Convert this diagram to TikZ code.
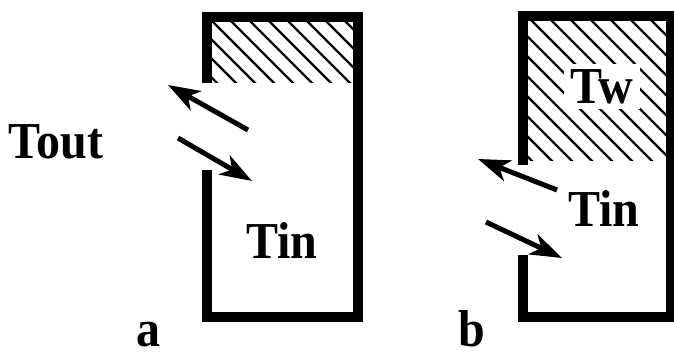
\documentclass[tikz,border=0pt]{standalone}
\usepackage{fontspec}
\setmainfont{Liberation Serif}
\usetikzlibrary{arrows.meta}
\newcommand\stretchtxt[1]{\scalebox{1}[1.08]{#1}}
\begin{document}
\begin{tikzpicture}[x=1pt,y=-1pt,
  wall/.style={line width=10pt, miter limit=10},
  hatchline/.style={line width=2.2pt},
  flow/.style={line width=5pt, -{Stealth[length=32pt,width=22pt,inset=9pt]}},
  lab/.style={font=\fontsize{48}{48}\selectfont\bfseries, inner sep=0pt, anchor=base}]
\useasboundingbox (0,0) rectangle (674,357);
% ---- panel a ----
\begin{scope}
\clip (212,22) rectangle (353,82);
\foreach \k in {-8,...,10} \draw[hatchline] ({191+19*\k},0) -- ++(200,200);
\end{scope}
\draw[wall] (207,83) -- (207,17) -- (358,17) -- (358,317) -- (207,317) -- (207,170);
\coordinate (aOutS) at (248,130);
\coordinate (aOutE) at (168,85);
\coordinate (aInS) at (178,138);
\coordinate (aInE) at (252,181);
\draw[flow] (aOutS) -- (aOutE);
\draw[flow] (aInS) -- (aInE);
\node[lab] (tout) at (56,158) {\stretchtxt{Tout}};
\node[lab] (tina) at (282,258) {\stretchtxt{Tin}};
\node[lab] (la) at (148,346) {\stretchtxt{a}};
% ---- panel b ----
\begin{scope}
\clip (528,21) rectangle (666,160);
\foreach \k in {-8,...,12} \draw[hatchline] ({511+20*\k},0) -- ++(250,250);
\end{scope}
\node[lab, fill=white, inner xsep=6pt, inner ysep=5pt] (tw) at (602,103) {\stretchtxt{Tw}};
\draw[wall] (523,165) -- (523,16) -- (671,16) -- (671,317) -- (523,317) -- (523,255);
\coordinate (bOutS) at (557,190);
\coordinate (bOutE) at (478,159);
\coordinate (bInS) at (486,222);
\coordinate (bInE) at (562,258);
\draw[flow] (bOutS) -- (bOutE);
\draw[flow] (bInS) -- (bInE);
\node[lab] (tinb) at (604,226) {\stretchtxt{Tin}};
\node[lab] (lb) at (472,346) {\stretchtxt{b}};
\end{tikzpicture}
\end{document}
